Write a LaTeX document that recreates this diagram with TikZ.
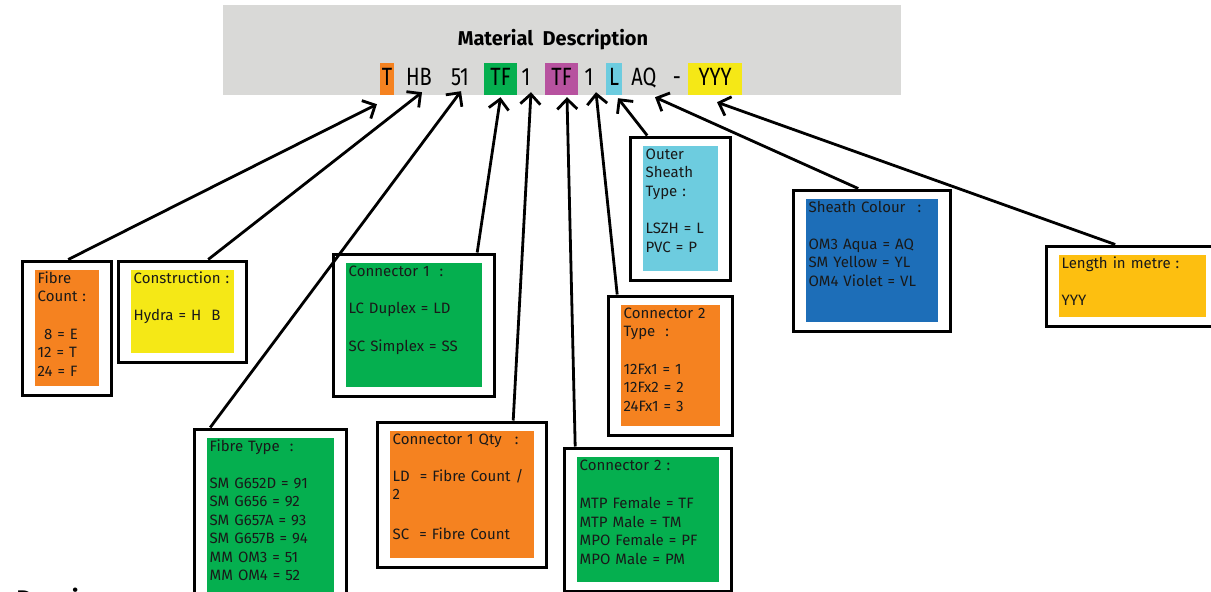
\documentclass[tikz,border=0pt]{standalone}
\usepackage{fontspec}
\setmainfont{Fira Sans}
\newfontfamily\codefont[FakeStretch=0.8]{Fira Sans}
\usetikzlibrary{arrows.meta, fit}
\definecolor{sheetgray}{HTML}{D9D9D7}
\definecolor{cOrange}{HTML}{F58220}
\definecolor{cGreen}{HTML}{05AF4F}
\definecolor{cMagenta}{HTML}{B7529F}
\definecolor{cCyan}{HTML}{6DCCDF}
\definecolor{cYellow}{HTML}{F5E816}
\definecolor{cBlue}{HTML}{1D6EB8}
\definecolor{cGold}{HTML}{FDBF10}
\tikzset{
  panel/.style={fill=#1, anchor=north west, align=left, inner xsep=2.5pt,
                inner ysep=0pt, text height=13pt, text=black!90,
                font=\fontsize{15}{18.5}\selectfont},
  frame/.style={draw=black, line width=3pt, inner xsep=12.5pt, inner ysep=9pt},
  token/.style={inner sep=0pt, text height=17pt, text depth=5pt,
                font=\codefont\fontsize{25}{25}\selectfont},
  hilite/.style={token, fill=#1, minimum height=32pt},
  link/.style={-{Straight Barb[length=10pt,width=20pt]}, line width=2.8pt},
}

\begin{document}
\begin{tikzpicture}[x=1pt, y=-1pt]
  \useasboundingbox (0,0) rectangle (1211,592);

  % material code strip
  \node [fill=sheetgray, minimum width=678pt, minimum height=90pt, inner sep=0pt,
         anchor=north west] (sheet) at (223,5) {};
  \node [font=\bfseries\fontsize{20}{20}\selectfont, anchor=base]
        (title) at (553,45) {Material\ \ Description};
  \node [hilite=cOrange, minimum width=14pt] (t) at (387,79) {T};
  \node [token] (hb) at (419,79) {HB};
  \node [token] (n51) at (460,79) {51};
  \node [hilite=cGreen, minimum width=33pt] (tfa) at (500.5,79) {TF};
  \node [token] (onea) at (526,79) {1};
  \node [hilite=cMagenta, minimum width=33pt] (tfb) at (561.5,79) {TF};
  \node [token] (oneb) at (589,79) {1};
  \node [hilite=cCyan, minimum width=16pt] (l) at (614,79) {L};
  \node [token] (aq) at (644,79) {AQ};
  \node [token] (dash) at (677,79) {-};
  \node [hilite=cYellow, minimum width=54pt] (yyy) at (715,79) {YYY};

  % coloured legend panels
  \node [panel=cOrange, text width=59pt, text depth=103pt] (fcount-in) at (35,270)
        {Fibre\\Count :\\[19pt]\phantom{1}8 = E\\12 = T\\24 = F};
  \node [panel=cYellow, text width=98pt, text depth=70pt] (construct-in) at (131,270)
        {Construction :\\[18.5pt]Hydra = H\ \ B};
  \node [panel=cGreen, text width=131pt, text depth=111pt] (conn1-in) at (346,263)
        {Connector 1\hspace{10pt}:\\[19pt]LC Duplex = LD\\[19pt]SC Simplex = SS};
  \node [panel=cGreen, text width=122pt, text depth=160pt] (ftype-in) at (207,438)
        {Fibre Type\ \ :\\[18.5pt]SM G652D = 91\\SM G656 = 92\\SM G657A = 93\\SM G657B = 94\\MM OM3 = 51\\MM OM4 = 52};
  \node [panel=cOrange, text width=139pt, text depth=114pt] (qty-in) at (390,431)
        {Connector 1 Qty\hspace{13pt}:\\[18.5pt]LD\ \ = Fibre Count /\\2\\[21pt]SC\ \ = Fibre Count};
  \node [panel=cGreen, text width=137pt, text depth=112pt] (conn2-in) at (577,457)
        {Connector 2 :\\[20pt]MTP Female = TF\\MTP Male = TM\\MPO Female = PF\\MPO Male = PM};
  \node [panel=cOrange, text width=94pt, text depth=108pt] (c2type-in) at (621,305)
        {Connector 2\\Type\ \ :\\[19pt]12Fx1 = 1\\12Fx2 = 2\\24Fx1 = 3};
  \node [panel=cCyan, text width=70pt, text depth=112pt] (osheath-in) at (643,146)
        {Outer\\Sheath\\Type :\\[19pt]LSZH = L\\PVC = P};
  \node [panel=cBlue, text width=127pt, text depth=110pt] (scolour-in) at (806,199)
        {Sheath Colour\hspace{12pt}:\\[18.5pt]OM3 Aqua = AQ\\SM Yellow = YL\\OM4 Violet = VL};
  \node [panel=cGold, text width=142pt, text depth=49pt] (length-in) at (1059,255)
        {Length in metre :\\[18.5pt]YYY};

  % black frames round the panels
  \node [frame, fit=(fcount-in)] (fcount) {};
  \node [frame, fit=(construct-in)] (construct) {};
  \node [frame, fit=(conn1-in)] (conn1) {};
  \node [frame, fit=(ftype-in)] (ftype) {};
  \node [frame, fit=(qty-in)] (qty) {};
  \node [frame, fit=(conn2-in)] (conn2) {};
  \node [frame, fit=(c2type-in)] (c2type) {};
  \node [frame, fit=(osheath-in)] (osheath) {};
  \node [frame, fit=(scolour-in)] (scolour) {};
  \node [frame, fit=(length-in)] (length) {};

  % pointers up to the code
  \draw [link] ([xshift=1pt]fcount.north) -- ([xshift=-10pt,yshift=-9pt]t.south);
  \draw [link] ([xshift=25.5pt]construct.north) -- ([xshift=3pt,yshift=-2pt]hb.south);
  \draw [link] ([xshift=-60.5pt]ftype.north) -- ([xshift=1pt,yshift=-1pt]n51.south);
  \draw [link] ([xshift=63pt]conn1.north) -- ([yshift=-2pt]tfa.south);
  \draw [link] ([xshift=51pt]qty.north) -- ([xshift=5pt,yshift=-2pt]onea.south);
  \draw [link] ([xshift=-73pt]conn2.north) -- ([xshift=5.5pt,yshift=-2pt]tfb.south);
  \draw [link] ([xshift=-53.5pt]c2type.north) -- ([xshift=7pt,yshift=-2pt]oneb.south);
  \draw [link] ([xshift=-33.5pt]osheath.north) -- ([xshift=4pt,yshift=-3pt]l.south);
  \draw [link] ([xshift=-14pt]scolour.north) -- ([xshift=11pt,yshift=-7pt]aq.south);
  \draw [link] ([xshift=-17.5pt]length.north) -- ([xshift=2pt,yshift=-7pt]yyy.south);

  \node [font=\bfseries\fontsize{24}{24}\selectfont, anchor=base west] (drawing) at (13,607) {Drawing};
\end{tikzpicture}
\end{document}
